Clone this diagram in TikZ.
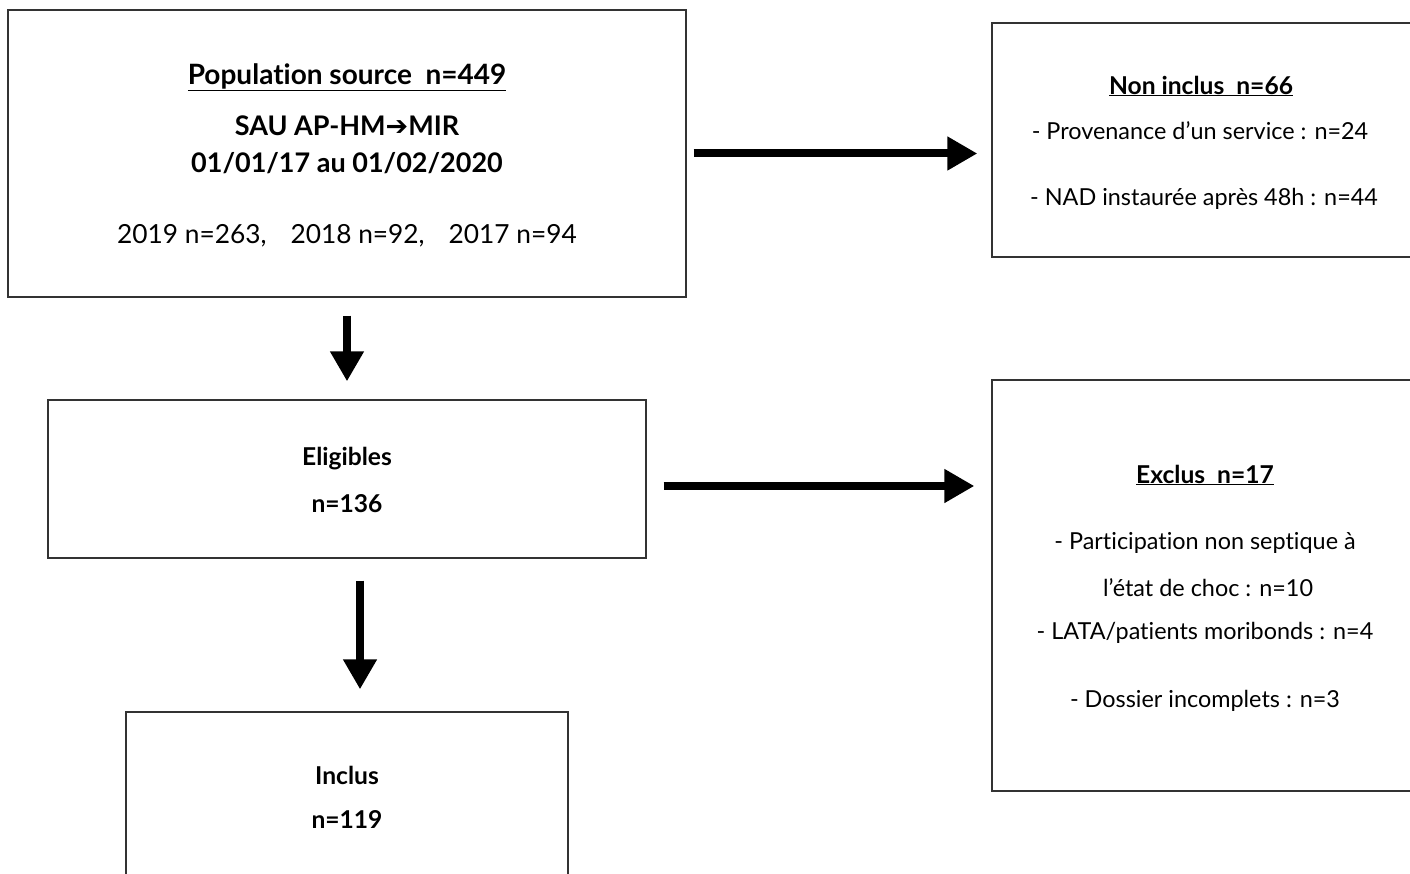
\documentclass[tikz,border=0pt]{standalone}
\usepackage{fontspec}
\setmainfont{Lato}[Ligatures={NoCommon}]
\newfontfamily\symfont{DejaVu Sans}
\usetikzlibrary{arrows.meta}
\tikzset{
  box/.style={draw=black!80, line width=1.3pt, rectangle, inner sep=0pt},
  big/.style={font=\fontsize{26.3}{30}\selectfont, inner sep=0pt, anchor=center, yshift=-2pt},
  bigb/.style={font=\fontsize{27}{31}\selectfont\bfseries, inner sep=0pt, anchor=center, yshift=-2pt},
  ttl/.style={font=\fontsize{28}{32}\selectfont\bfseries, inner sep=0pt, anchor=center, yshift=-2pt},
  sm/.style={font=\fontsize{23.4}{27}\selectfont, inner sep=0pt, anchor=center, yshift=-2pt},
  smb/.style={font=\fontsize{24.6}{28}\selectfont\bfseries, inner sep=0pt, anchor=center, yshift=-2pt},
  fat/.style={line width=8pt, -{Triangle[length=30pt,width=32pt]}},
}
\newcommand{\ul}[1]{\underline{#1}}
\begin{document}
\begin{tikzpicture}[x=1pt,y=-1pt]
\useasboundingbox (0,0) rectangle (1410,874);
\clip (0,0) rectangle (1410,874);
\fill[white] (0,0) rectangle (1410,874);
% boxes
\node[box, minimum width=678pt, minimum height=287pt] (pop) at (347,153.5) {};
\node[box, minimum width=428pt, minimum height=234pt] (non) at (1206,140) {};
\node[box, minimum width=598pt, minimum height=158pt] (elig) at (347,479) {};
\node[box, minimum width=428pt, minimum height=411pt] (excl) at (1206,585.5) {};
\node[box, minimum width=442pt, minimum height=200pt] (incl) at (347,812) {};
% texts
\node[ttl] (t1) at (347,75) {\ul{Population source~~n=449}};
\node[bigb] (t2) at (347,124) {SAU AP-HM{\symfont\bfseries ➔}MIR};
\node[bigb] (t3) at (347,161) {01/01/17 au 01/02/2020};
\node[big] (t4) at (347,234) {2019 n=263,\hspace{24pt}2018 n=92,\hspace{24pt}2017 n=94};
\node[smb] (n1) at (1201,84) {\ul{Non inclus~~n=66}};
\node[sm] (n2) at (1200,129) {- Provenance d’un service : n=24};
\node[sm] (n3) at (1204,197) {- NAD instaurée après 48h : n=44};
\node[smb] (e1) at (347,457) {Eligibles};
\node[smb] (e2) at (347,502) {n=136};
\node[smb] (x1) at (1205,473) {\ul{Exclus~~n=17}};
\node[sm] (x2) at (1205,541) {- Participation non septique à};
\node[sm] (x3) at (1208,586) {l’état de choc : n=10};
\node[sm] (x4) at (1205,631) {- LATA/patients moribonds : n=4};
\node[sm] (x5) at (1205,699) {- Dossier incomplets : n=3};
\node[smb] (i1) at (347,773) {Inclus};
\node[smb] (i2) at (347,818) {n=119};
% arrows
\draw[fat, shorten <=7pt, shorten >=14pt] (pop.east) -- (pop.east -| non.west);
\draw[fat, shorten <=17pt, shorten >=17pt] ([yshift=-7pt]elig.east) -- ([yshift=-7pt]elig.east -| excl.west);
\draw[fat, shorten <=18pt, shorten >=18pt] (pop.south) -- (elig.north);
\draw[fat, shorten <=22pt, shorten >=22pt] ([xshift=13pt]elig.south) -- ([xshift=13pt]elig.south |- incl.north);
\end{tikzpicture}
\end{document}
